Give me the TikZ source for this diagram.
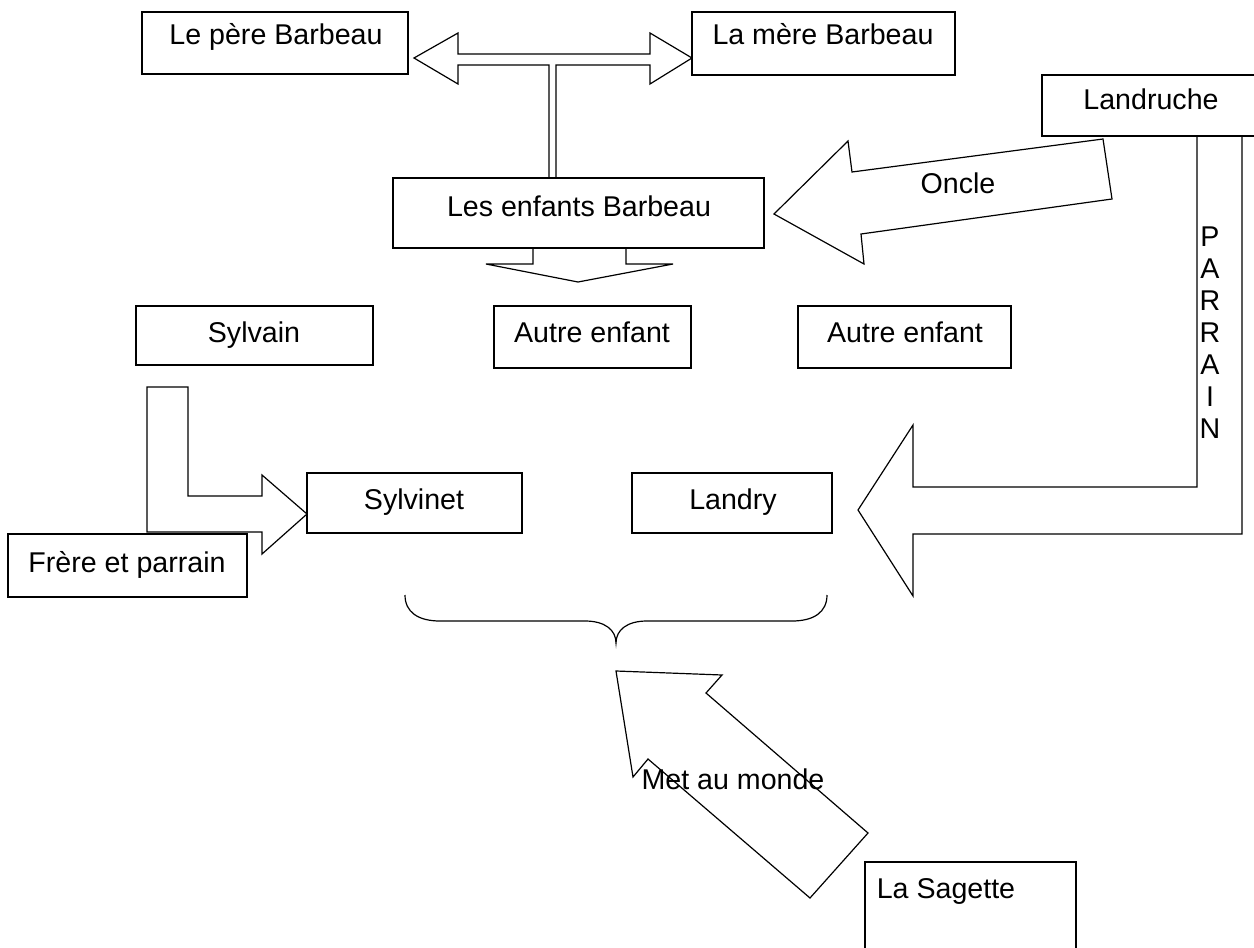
\documentclass[tikz,border=0pt]{standalone}
\usepackage{fontspec}
\setmainfont{Liberation Sans}
\begin{document}
\begin{tikzpicture}[x=1pt,y=-1pt,
  box/.style={draw, fill=white, line width=1.2pt, anchor=north west, inner sep=0pt, outer sep=0pt},
  txt/.style={anchor=base, inner sep=0pt, font=\fontsize{28.6}{32}\selectfont},
  blk/.style={draw, fill=white, line width=1.2pt, line join=miter}]
\useasboundingbox[fill=white] (0,0) rectangle (1254,948);

% block arrows (behind boxes)
\draw[blk] (414,58) -- (458,33) -- (458,54) -- (650,54) -- (650,33) -- (692,58) -- (650,84) -- (650,65)
  -- (556,65) -- (556,178) -- (549,178) -- (549,65) -- (458,65) -- (458,84) -- cycle;
\draw[blk] (533,246) -- (533,264) -- (486,264) -- (578,282) -- (673,264) -- (626,264) -- (626,246);
\draw[blk] (774,214) -- (848,141) -- (852,172) -- (1103,139) -- (1112,199) -- (861,234) -- (864,264) -- cycle;
\draw[blk] (858,510) -- (913,425) -- (913,487) -- (1197,487) -- (1197,134) -- (1242,134) -- (1242,534)
  -- (913,534) -- (913,596) -- cycle;
\draw[blk] (147,387) -- (188,387) -- (188,496) -- (262,496) -- (262,475) -- (307,514) -- (262,554)
  -- (262,532) -- (147,532) -- cycle;
\draw[blk] (616,671) -- (722,675) -- (706,693) -- (868,833) -- (810,898) -- (648,759) -- (633,777) -- cycle;

% boxes
\node[box, minimum width=266pt, minimum height=62pt] (pere) at (142,12) {};
\node[box, minimum width=263pt, minimum height=63pt] (mere) at (692,12) {};
\node[box, minimum width=220pt, minimum height=61pt] (landruche) at (1042,75) {};
\node[box, minimum width=371pt, minimum height=70pt] (enfants) at (393,178) {};
\node[box, minimum width=237pt, minimum height=59pt] (sylvain) at (136,306) {};
\node[box, minimum width=197pt, minimum height=62pt] (autre1) at (494,306) {};
\node[box, minimum width=213pt, minimum height=62pt] (autre2) at (798,306) {};
\node[box, minimum width=215pt, minimum height=60pt] (sylvinet) at (307,473) {};
\node[box, minimum width=200pt, minimum height=60pt] (landry) at (632,473) {};
\node[box, minimum width=239pt, minimum height=63pt] (frere) at (8,534) {};
\node[box, minimum width=211pt, minimum height=100pt] (sagette) at (865,862) {};

% brace
\draw[line width=1.2pt] (405,595) .. controls (405,612) and (418,621) .. (440,621) -- (585,621)
  .. controls (605,621) and (616,630) .. (616,643)
  .. controls (616,630) and (627,621) .. (647,621) -- (792,621)
  .. controls (814,621) and (827,612) .. (827,595);

% texts
\node[txt] (tpere) at (276,44) {Le père Barbeau};
\node[txt] (tmere) at (823,44) {La mère Barbeau};
\node[txt] (tland) at (1151,109) {Landruche};
\node[txt] (tenf) at (579,216) {Les enfants Barbeau};
\node[txt] (toncle) at (958,193) {Oncle};
\node[txt] (tsylv) at (254,342) {Sylvain};
\node[txt] (ta1) at (592,342) {Autre enfant};
\node[txt] (ta2) at (905,342) {Autre enfant};
\node[txt] (tsylvinet) at (414,509) {Sylvinet};
\node[txt] (tlandry) at (733,509) {Landry};
\node[txt] (tfrere) at (127,572) {Frère et parrain};
\node[txt] (tsag) at (946,898) {La Sagette};
\node[txt] (tmet) at (733,789) {Met au monde};
\foreach \l [count=\i from 0] in {P,A,R,R,A,I,N}
  \node[txt] (par\i) at (1210,246+32*\i) {\l};
\end{tikzpicture}
\end{document}
